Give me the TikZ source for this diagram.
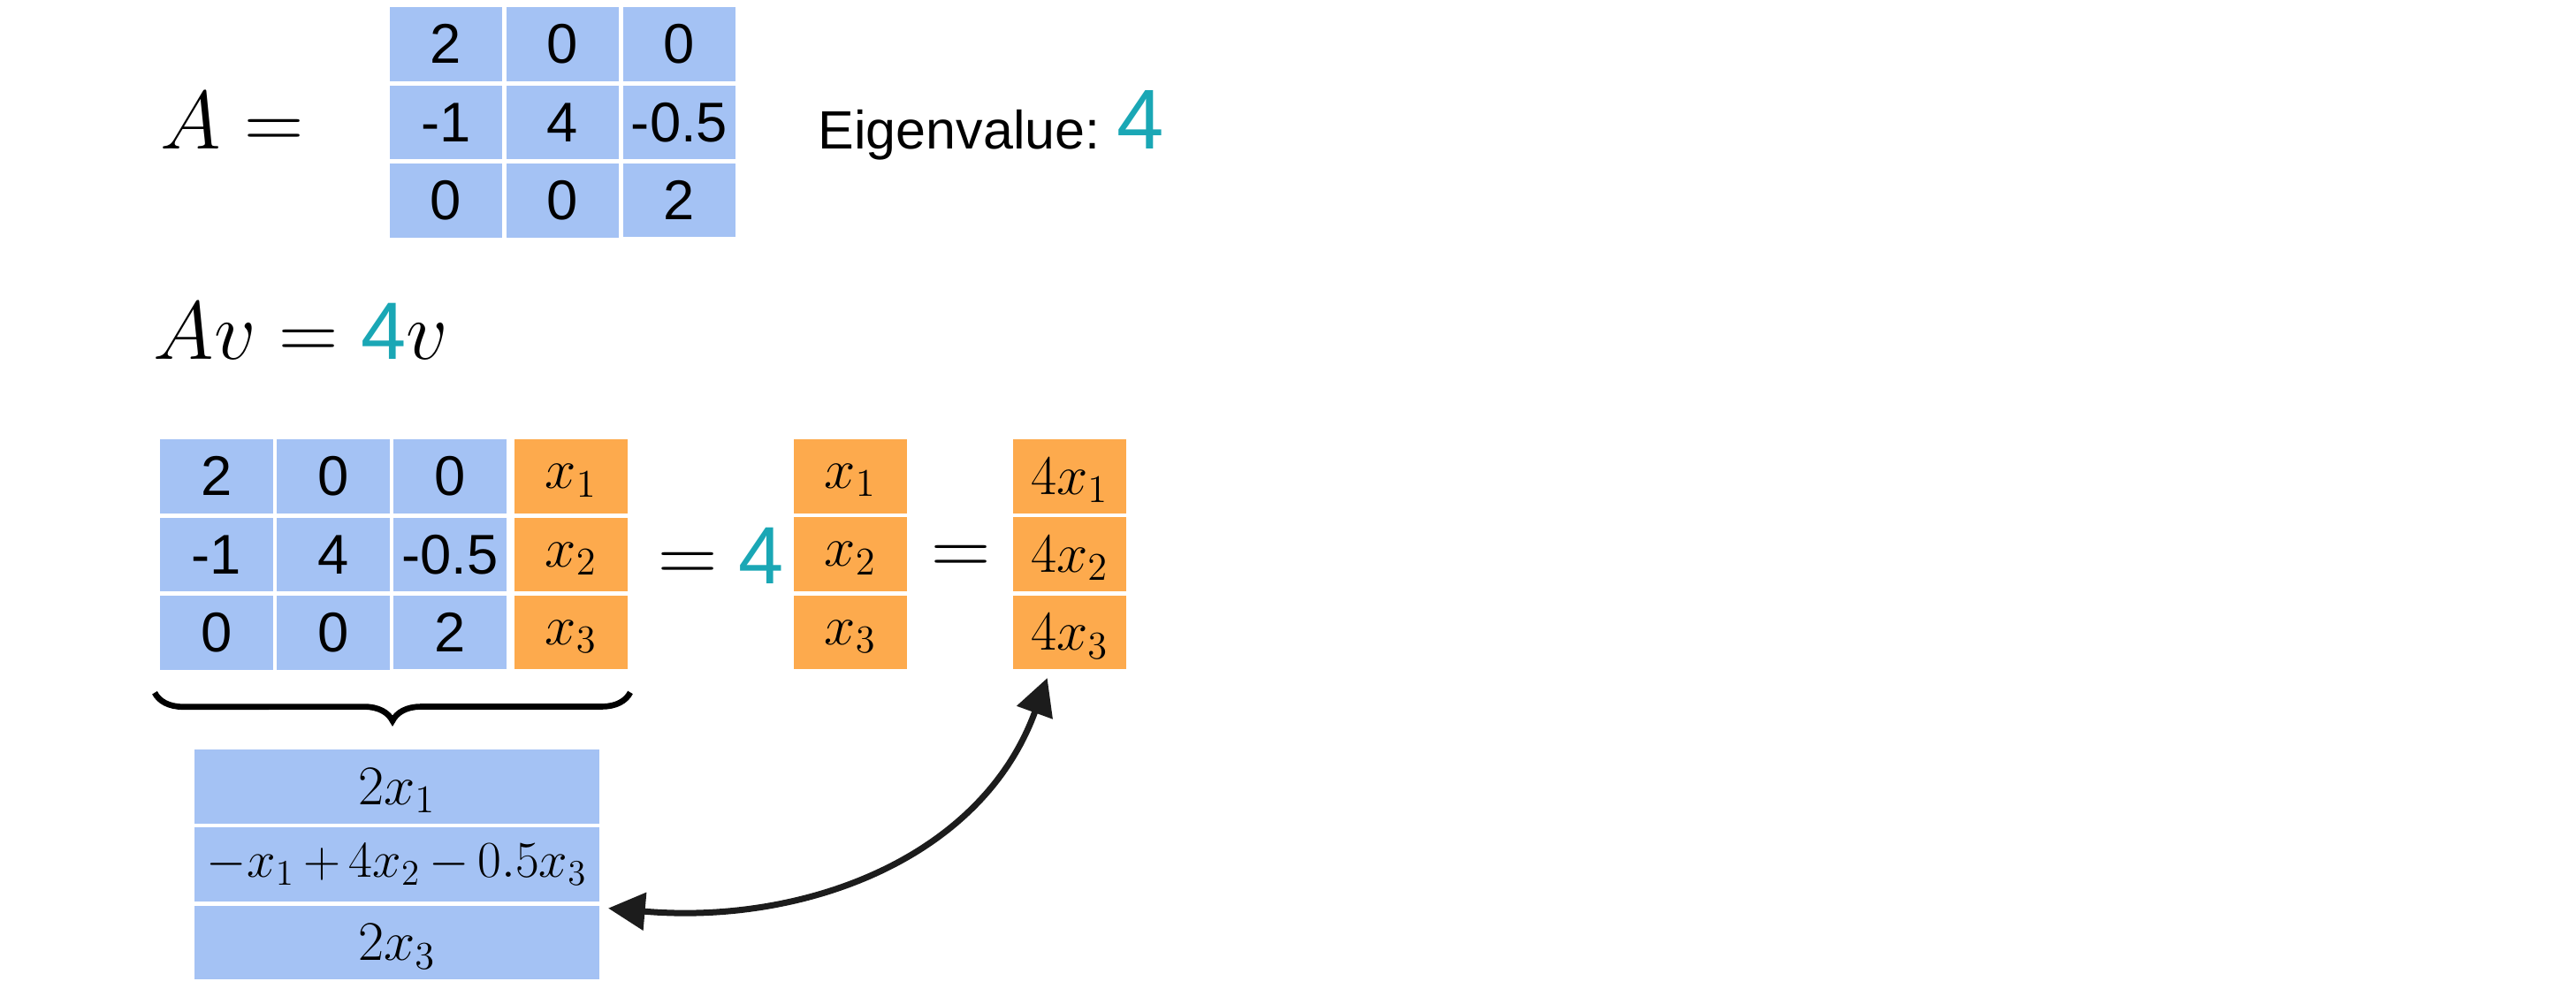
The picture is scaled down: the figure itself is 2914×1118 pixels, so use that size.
\RequirePackage{fix-cm}
\documentclass[tikz,border=0pt]{standalone}
\usepackage{fontspec}
\setsansfont{Liberation Sans}
\usetikzlibrary{matrix,positioning,arrows.meta,decorations.pathreplacing}

\definecolor{cellblue}{HTML}{A4C2F4}
\definecolor{cellorange}{HTML}{FDAA4D}
\definecolor{evteal}{HTML}{1AA7B5}
\definecolor{arrowink}{HTML}{1C1C1C}

\newcommand{\tealfour}[1]{{\fontsize{#1}{#1}\sffamily\color{evteal}4}}

\begin{document}
\begin{tikzpicture}[
        x=0.3pt, y=0.3pt,
        cell/.style={minimum width=38.4pt, minimum height=25.05pt, inner sep=0pt, outer sep=0pt,
            font=\fontsize{19pt}{21pt}\sffamily},
        bluecell/.style={cell, fill=cellblue},
        orangecell/.style={cell, fill=cellorange},
        xcell/.style={text height=8.2pt, text depth=0pt},
        dcell/.style={text height=12.2pt, text depth=0pt},
        grid/.style={matrix of nodes, inner sep=0pt, outer sep=0pt, anchor=north west,
            row sep=1.44pt, column sep=1.2pt},
        eqsign/.style={anchor=base, inner sep=0pt, font=\fontsize{28pt}{30pt}\selectfont},
        brace/.style={decorate, decoration={brace, mirror, amplitude=9.6pt}, line width=2pt},
        biarrow/.style={<->, >={Triangle[length=12.5pt, width=12.5pt]}, line width=2.1pt, draw=arrowink}
    ]
    \useasboundingbox (0,0) rectangle (2914,-1118);

    % the matrix and its eigenvalue
    \node[eqsign, anchor=base west] (Aname) at (181,-168) {$A =$};
    \matrix (A) [grid, nodes={bluecell, minimum width=38.1pt}, column sep=1.5pt] at (441,-8) {
        2 & 0 & 0 \\
        -1 & 4 & -0.5 \\
        0 & 0 & 2 \\
    };
    \node[anchor=base west, inner sep=0pt, font=\fontsize{18.3pt}{20pt}\sffamily] (evtext) at (925,-168) {Eigenvalue:};
    \node[anchor=base west, inner sep=0pt] (evval) at (1263,-168) {\tealfour{28.8pt}};

    % the equation
    \node[eqsign, anchor=base west] (Av) at (173,-406) {$Av = \mbox{\tealfour{27.6pt}}v$};

    \matrix (M) [grid, nodes={bluecell}] at (181,-497) {
        2 & 0 & 0 \\
        -1 & 4 & -0.5 \\
        0 & 0 & 2 \\
    };
    \matrix (x) [grid, nodes={orangecell, xcell}, right=2.7pt of M] {
        $x_1$ \\
        $x_2$ \\
        $x_3$ \\
    };
    \node[eqsign] (eq1) at (778,-658) {$=$};
    \node[anchor=base, inner sep=0pt] (lambda) at (861,-660) {\tealfour{27.6pt}};
    \matrix (v) [grid, nodes={orangecell, xcell}] at (898,-497) {
        $x_1$ \\
        $x_2$ \\
        $x_3$ \\
    };
    \node[eqsign] (eq2) at (1087.5,-650) {$=$};
    \matrix (lv) [grid, nodes={orangecell, dcell}] at (1146,-497) {
        $4x_1$ \\
        $4x_2$ \\
        $4x_3$ \\
    };

    % the product row by row
    \draw[brace] ([xshift=-1.8pt, yshift=-7.8pt]M.south west) -- ([xshift=0.9pt, yshift=-7.8pt]x.south east);
    \matrix (R) [grid, nodes={bluecell, minimum width=137.4pt}] at (220,-848) {
        |[dcell]| $2x_1$ \\
        |[font=\fontsize{17.5pt}{20pt}\selectfont]| $\medmuskip=3mu\relax -x_1 + 4x_2 - 0.5x_3$ \\
        |[dcell]| $2x_3$ \\
    };
    \draw[biarrow] ([xshift=3pt, yshift=-0.9pt]R-3-1.north east) to[out=-5, in=250] ([xshift=-7.6pt, yshift=-3pt]lv-3-1.south);
\end{tikzpicture}
\end{document}
